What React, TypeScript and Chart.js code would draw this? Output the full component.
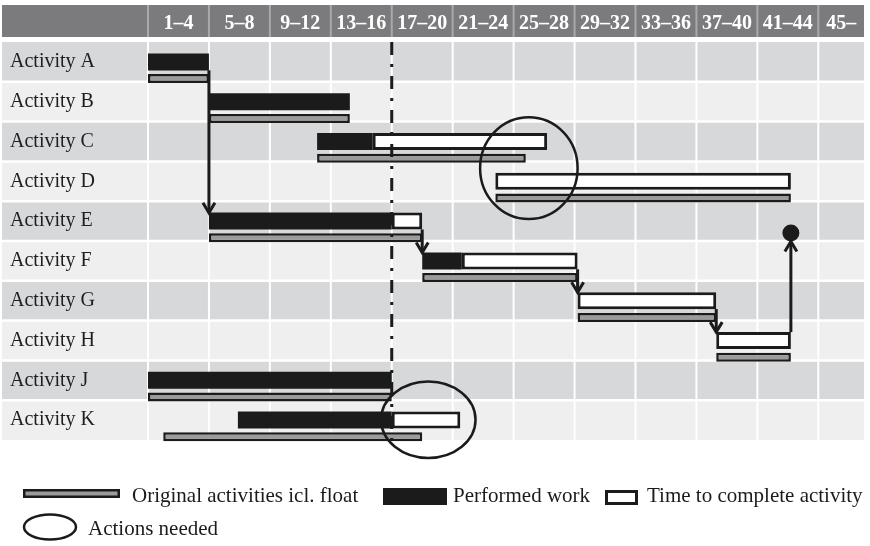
import React, { useEffect, useRef } from 'react';
import { Chart, registerables } from 'chart.js';

Chart.register(...registerables);

// ---------- data ----------
const activities = [
  'Activity A', 'Activity B', 'Activity C', 'Activity D', 'Activity E',
  'Activity F', 'Activity G', 'Activity H', 'Activity J', 'Activity K',
];
const weekLabels = ['1–4', '5–8', '9–12', '13–16', '17–20', '21–24', '25–28', '29–32', '33–36', '37–40', '41–44', '45–'];
const weekMax = 47;

const performedStart = [0, 4, 11.1, null, 4, 18, null, null, 0, 5.9];
const performedEnd = [4, 13.25, 14.75, null, 16, 20.6, null, null, 16, 16];
const remainingStart = [null, null, 14.75, 22.8, 16, 20.6, 28.2, 37.3, null, 16];
const remainingEnd = [null, null, 26.2, 42.2, 18, 28.2, 37.3, 42.2, null, 20.5];
const originalStart = [0, 4, 11.1, 22.8, 4, 18, 28.2, 37.3, 0, 1];
const originalEnd = [4, 13.25, 24.8, 42.2, 18, 28.2, 37.3, 42.2, 16, 18];

const statusWeek = 16;

const linkFromRow = [0, 4, 5, 6];
const linkToRow = [4, 5, 6, 7];
const linkWeek = [4, 18, 28.2, 37.3];

const milestoneWeek = 42.2;
const milestoneFromRow = 7;
const milestoneRow = 4.3;

const actionWeek = [25, 18.4];
const actionRow = [2.67, 8.99];
const actionWeekRadius = [3.2, 3.1];
const actionRowRadius = [1.28, 0.96];

const legendLabels = ['Original activities icl. float', 'Performed work', 'Time to complete activity', 'Actions needed'];

// ---------- layout / style ----------
const FONT = "'Liberation Serif', 'Times New Roman', serif";
const MAIN_T = 17;
const ORIG_T = 9;
const ORIG_OFF = 0.42;
const BAR_HALF = 0.21;
const INK = '#1b1b1b';

function toRange(s: (number | null)[], e: (number | null)[], off: number) {
  const out: any[] = [];
  s.forEach((v, i) => {
    if (v != null && e[i] != null) out.push({ x: [v, e[i]], y: i + off });
  });
  return out;
}

function line(ctx: CanvasRenderingContext2D, x1: number, y1: number, x2: number, y2: number) {
  ctx.beginPath();
  ctx.moveTo(x1, y1);
  ctx.lineTo(x2, y2);
  ctx.stroke();
}

function arrow(ctx: CanvasRenderingContext2D, x: number, y1: number, y2: number) {
  line(ctx, x, y1, x, y2);
  const d = y2 > y1 ? -1 : 1;
  ctx.beginPath();
  ctx.moveTo(x - 6, y2 + d * 10);
  ctx.lineTo(x, y2);
  ctx.lineTo(x + 6, y2 + d * 10);
  ctx.stroke();
}

const backgroundPlugin = {
  id: 'ganttBackground',
  beforeDraw(chart: any) {
    const { ctx, chartArea: a } = chart;
    const xs = chart.scales.x;
    const ys = chart.scales.y;
    ctx.save();
    ctx.fillStyle = '#ffffff';
    ctx.fillRect(0, 0, chart.width, chart.height);
    // header band
    ctx.fillStyle = '#7b7b7e';
    ctx.fillRect(2, 5, a.right - 2, 32);
    ctx.strokeStyle = '#a9a9ac';
    ctx.lineWidth = 2;
    weekLabels.forEach((_, k) => {
      const x = xs.getPixelForValue(k * 4);
      line(ctx, x, 5, x, 37);
    });
    // row bands
    activities.forEach((_, i) => {
      const t = ys.getPixelForValue(i - 0.5);
      const b = ys.getPixelForValue(i + 0.5);
      ctx.fillStyle = i % 2 === 0 ? '#d7d8da' : '#efefef';
      ctx.fillRect(2, t, a.right - 2, b - t);
    });
    ctx.strokeStyle = '#ffffff';
    ctx.lineWidth = 2.5;
    for (let i = 1; i < activities.length; i++) {
      const y = ys.getPixelForValue(i - 0.5);
      line(ctx, 2, y, a.right, y);
    }
    ctx.lineWidth = 2;
    weekLabels.forEach((_, k) => {
      const x = xs.getPixelForValue(k * 4);
      line(ctx, x, a.top, x, a.bottom);
    });
    ctx.restore();
  },
};

const overlayPlugin = {
  id: 'ganttOverlay',
  afterDatasetsDraw(chart: any) {
    const { ctx, chartArea: a } = chart;
    const xs = chart.scales.x;
    const ys = chart.scales.y;
    ctx.save();
    ctx.strokeStyle = INK;
    ctx.fillStyle = INK;
    // status date line
    ctx.lineWidth = 3;
    ctx.setLineDash([13, 9, 3, 9]);
    const sx = xs.getPixelForValue(statusWeek);
    line(ctx, sx, a.top, sx, a.bottom);
    ctx.setLineDash([]);
    // dependency arrows
    ctx.lineWidth = 3;
    linkWeek.forEach((w, k) => {
      const x = xs.getPixelForValue(w);
      arrow(ctx, x, ys.getPixelForValue(linkFromRow[k] + BAR_HALF), ys.getPixelForValue(linkToRow[k] - BAR_HALF));
    });
    // milestone
    const mx = xs.getPixelForValue(milestoneWeek);
    const my = ys.getPixelForValue(milestoneRow);
    const r = 8.5;
    ctx.beginPath();
    ctx.arc(mx, my, r, 0, Math.PI * 2);
    ctx.fill();
    arrow(ctx, mx, ys.getPixelForValue(milestoneFromRow - BAR_HALF), my + r);
    // action circles
    ctx.lineWidth = 2.5;
    actionWeek.forEach((w, k) => {
      const cx = xs.getPixelForValue(w);
      const cy = ys.getPixelForValue(actionRow[k]);
      const rx = Math.abs(xs.getPixelForValue(w + actionWeekRadius[k]) - cx);
      const ry = Math.abs(ys.getPixelForValue(actionRow[k] + actionRowRadius[k]) - cy);
      ctx.beginPath();
      ctx.ellipse(cx, cy, rx, ry, 0, 0, Math.PI * 2);
      ctx.stroke();
    });
    ctx.restore();
  },
};

function box(ctx: CanvasRenderingContext2D, x: number, y: number, w: number, h: number, bw: number, fill: string) {
  ctx.fillStyle = INK;
  ctx.fillRect(x, y, w, h);
  ctx.fillStyle = fill;
  ctx.fillRect(x + bw, y + bw, w - 2 * bw, h - 2 * bw);
}

const legendPlugin = {
  id: 'ganttLegend',
  afterDraw(chart: any) {
    const { ctx } = chart;
    ctx.save();
    ctx.font = `21px ${FONT}`;
    ctx.textBaseline = 'alphabetic';
    ctx.textAlign = 'left';
    box(ctx, 23, 489, 97, 9, 2.5, '#9b9b9b');
    ctx.fillStyle = INK;
    ctx.fillText(legendLabels[0], 132, 502);
    box(ctx, 383, 488, 64, 17, 2, INK);
    ctx.fillStyle = INK;
    ctx.fillText(legendLabels[1], 453, 502);
    box(ctx, 605, 490, 33, 15, 3, '#ffffff');
    ctx.fillStyle = INK;
    ctx.fillText(legendLabels[2], 647, 502);
    ctx.strokeStyle = INK;
    ctx.lineWidth = 2.5;
    ctx.beginPath();
    ctx.ellipse(50, 527, 26, 12.5, 0, 0, Math.PI * 2);
    ctx.stroke();
    ctx.fillStyle = INK;
    ctx.fillText(legendLabels[3], 88, 535);
    ctx.restore();
  },
};

export default function App() {
  const canvasRef = useRef<HTMLCanvasElement | null>(null);

  useEffect(() => {
    if (!canvasRef.current) return;
    const barCommon = {
      stack: 'g',
      borderSkipped: false,
      clip: false,
      inflateAmount: 0,
    };
    const chart = new Chart(canvasRef.current, {
      type: 'bar',
      data: {
        datasets: [
          {
            ...barCommon,
            label: 'Performed work',
            data: toRange(performedStart, performedEnd, 0),
            backgroundColor: INK,
            borderColor: INK,
            borderWidth: 0,
            barThickness: MAIN_T,
          },
          {
            ...barCommon,
            label: 'Time to complete activity',
            data: toRange(remainingStart, remainingEnd, 0),
            backgroundColor: '#ffffff',
            borderColor: INK,
            borderWidth: 3,
            barThickness: MAIN_T,
          },
          {
            ...barCommon,
            label: 'Original activities icl. float',
            data: toRange(originalStart, originalEnd, ORIG_OFF),
            backgroundColor: '#9b9b9b',
            borderColor: INK,
            borderWidth: 2.5,
            barThickness: ORIG_T,
          },
        ] as any,
      },
      options: {
        indexAxis: 'y',
        animation: false,
        responsive: false,
        maintainAspectRatio: false,
        events: [],
        layout: { autoPadding: false, padding: { left: 10, right: 6, top: 0, bottom: 106 } },
        plugins: {
          legend: { display: false },
          tooltip: { enabled: false },
        },
        scales: {
          x: {
            type: 'linear',
            position: 'top',
            min: 0,
            max: weekMax,
            stacked: false,
            offset: false,
            grid: { display: false, drawTicks: false, offset: false },
            border: { display: false },
            afterBuildTicks: (scale: any) => {
              scale.ticks = weekLabels.map((_, i) => ({ value: Math.min(i * 4 + 2, (i * 4 + weekMax) / 2) }));
            },
            afterFit: (scale: any) => {
              scale.height = 42;
              scale.paddingLeft = 0;
              scale.paddingRight = 0;
            },
            ticks: {
              autoSkip: false,
              maxRotation: 0,
              minRotation: 0,
              padding: 6,
              color: '#ffffff',
              font: { family: FONT, size: 20, weight: 'bold' },
              callback: (_v: any, i: number) => weekLabels[i],
            },
          },
          y: {
            type: 'linear',
            position: 'left',
            min: -0.5,
            max: activities.length - 0.5,
            reverse: true,
            offset: false,
            grid: { display: false, drawTicks: false, offset: false },
            border: { display: false },
            afterBuildTicks: (scale: any) => {
              scale.ticks = activities.map((_, i) => ({ value: i }));
            },
            afterFit: (scale: any) => {
              scale.width = 138;
              scale.paddingTop = 0;
              scale.paddingBottom = 0;
            },
            ticks: {
              autoSkip: false,
              crossAlign: 'far',
              padding: 0,
              color: '#1e1e1e',
              font: { family: FONT, size: 20 },
              callback: (v: any) => activities[Math.round(Number(v))],
            },
          },
        },
      } as any,
      plugins: [backgroundPlugin, overlayPlugin, legendPlugin],
    });
    return () => chart.destroy();
  }, []);

  return (
    <div style={{ position: 'fixed', left: 0, top: 0, width: 870, height: 546, background: '#fff' }}>
      <canvas ref={canvasRef} width={870} height={546} style={{ width: 870, height: 546, display: 'block' }} />
    </div>
  );
}
